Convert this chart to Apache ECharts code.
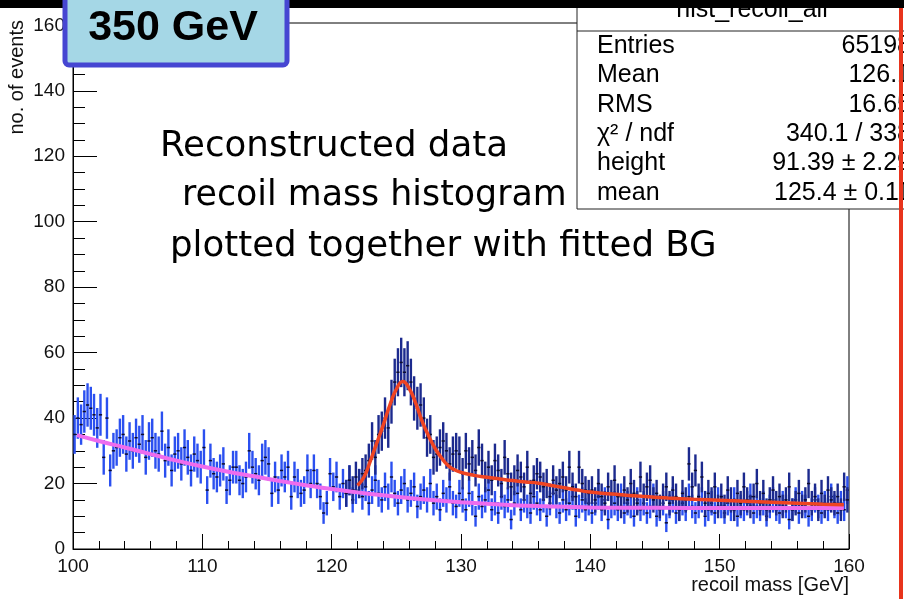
<!DOCTYPE html>
<html><head><meta charset="utf-8">
<script src="https://cdn.jsdelivr.net/npm/echarts@6/dist/echarts.min.js"></script>
<style>html,body{margin:0;padding:0;background:#fff}#c{width:904px;height:599px}</style>
</head><body><div id="c"></div>
<script>
// bin layout
const X_MIN = 100, X_MAX = 160, BIN = 0.25;
const xTicks = [100, 110, 120, 130, 140, 150, 160];
const yTicks = [0, 20, 40, 60, 80, 100, 120, 140, 160];

// blue histogram (background-like sample), 100-160 GeV, 0.25 GeV bins
const blueCounts = [
  35,40,38,42, 44,43,41,37, 41,28,40,24, 30,31,34,35, 29,33,30,34,
  32,35,28,33, 34,30,29,36, 27,31,24,29, 30,26,31,28, 24,29,27,25,
  31,18,27,23, 22,24,26,18, 21,25,25,21, 20,22,30,25, 23,21,27,28,
  26,17,22,18, 24,22,25,16, 22,20,17,18, 24,20,24,20, 16,11,14,23,
  19,22,16,20, 17,21,15,18, 20,16,19,14, 18,21,17,15, 19,16,22,17,
  14,18,20,15, 17,19,13,16, 18,15,20,14, 16,12,17,15, 19,14,13,17,
  15,12,17,14, 10,16,13,15, 18,12,14,11, 16,13,15,9, 14,17,12,15,
  13,11,16,14, 12,15,10,14, 17,13,11,15, 12,14,16,10, 13,15,12,14,
  11,14,16,12, 15,9,13,14, 12,16,11,14, 13,10,15,12, 14,11,13,16,
  10,12,14,8, 13,15,11,12, 14,12,16,13, 11,13,15,10, 12,14,11,15,
  13,11,14,12, 15,10,13,12, 14,16,11,13, 12,14,10,13, 15,12,11,14,
  13,9,12,15, 11,14,13,10, 12,15,13,11, 14,12,16,13, 11,14,12,18
];

// dark histogram (signal + background sample), starts at 121 GeV
const DARK_START = 121;
const darkCounts = [
  17,21,18,22, 20,23,24,27, 33,28,35,36, 40,37,45,51, 54,57,54,56,
  51,46,43,44, 40,34,35,28, 29,31,33,30, 26,29,30,29,
  23,30,26,28, 24,31,27,22, 25,21,27,24, 20,28,23,19, 21,24,22,19,
  25,17,21,23, 22,19,20,16, 21,18,20,22, 18,25,19,16, 25,20,18,17,
  18,15,20,16, 14,19,17,21, 16,13,18,15, 20,17,14,22, 16,19,21,15,
  17,13,16,19, 14,18,16,12, 17,15,26,19, 24,16,22,14, 17,15,19,13,
  16,13,18,15, 12,17,14,19, 15,13,16,20, 14,17,12,15, 18,14,16,13,
  15,19,12,14, 17,13,15,20, 14,16,12,17, 13,18,15,14, 16,12,19,15
];

// fitted background curve (magenta)
const bgFitX = [100.3,102,104,106,108,110,112,114,116,118,120,122,124,126,128,130,132,134,136,138,140,145,150,155,159.6];
const bgFitY = [34.8,33,31,29,27,25.2,23.6,22.2,20.8,19.5,18.3,17.3,16.4,15.6,14.9,14.3,13.8,13.4,13.1,12.9,12.7,12.6,12.5,12.5,12.5];

// full fit curve (red)
const fitX = [122.0,122.5,123.0,123.5,124.0,124.5,125.0,125.5,126.0,126.5,127.0,127.5,128.0,128.5,129.0,129.5,130,131,132,133,134,135,136,137,138,139,140,142,144,146,148,150,152,154,156,158,159.6];
const fitY = [19.4,22,27,32.5,38,44,48.8,51.2,49,44.5,39,34.5,30.7,27.8,25.5,24.2,23.4,22.5,21.9,21.4,20.9,20.5,20.1,19.4,18.7,18,17.4,16.7,16.1,15.6,15.2,14.9,14.6,14.3,14,13.7,13.5];

const statLabels = ['Entries', 'Mean', 'RMS', 'χ² / ndf', 'height', 'mean'];
const statValues = ['65198', '126.1', '16.65', '340.1 / 338', '91.39 ± 2.29', '125.4 ± 0.11'];

const blueData = blueCounts.map((v, i) => [X_MIN + (i + 0.5) * BIN, v]);
const darkData = darkCounts.map((v, i) => [DARK_START + (i + 0.5) * BIN, v]);

function errRender(color) {
  return function (params, api) {
    const x = api.value(0), y = api.value(1);
    const e = Math.sqrt(y);
    const t = api.coord([x, y + e]), b = api.coord([x, Math.max(0, y - e)]);
    const l = api.coord([x - BIN / 2, y]), r = api.coord([x + BIN / 2, y]);
    return { type: 'group', children: [
      { type: 'line', shape: { x1: t[0], y1: t[1], x2: b[0], y2: b[1] }, style: { stroke: color, lineWidth: 2.4 } },
      { type: 'line', shape: { x1: l[0], y1: l[1], x2: r[0], y2: r[1] }, style: { stroke: '#0c0c30', lineWidth: 1.5 } }
    ]};
  };
}

const FONT = 'Liberation Sans, Arial, sans-serif';
const chart = echarts.init(document.getElementById('c'), null, { renderer: 'canvas' });

const statGraphics = [];
statLabels.forEach((s, i) => {
  const y = 46 + i * 29.4;
  statGraphics.push({ type: 'text', z: 101, x: 597, y: y, style: { text: s, font: '25px ' + FONT, fill: '#000', textAlign: 'left', textVerticalAlign: 'middle' } });
  statGraphics.push({ type: 'text', z: 101, x: 911, y: y, style: { text: statValues[i], font: '25px ' + FONT, fill: '#000', textAlign: 'right', textVerticalAlign: 'middle' } });
});

chart.setOption({
  animation: false,
  backgroundColor: '#fff',
  grid: { left: 73, right: 55, top: 23, bottom: 50, show: true, borderColor: '#000', borderWidth: 1, backgroundColor: 'transparent' },
  xAxis: {
    type: 'value', min: X_MIN, max: X_MAX, interval: 10,
    axisLine: { show: true, lineStyle: { color: '#000', width: 1 } },
    axisTick: { show: true, inside: true, length: 15, lineStyle: { color: '#000' } },
    minorTick: { show: true, splitNumber: 5, length: 8, lineStyle: { color: '#000' } },
    splitLine: { show: false },
    axisLabel: { margin: 8, fontSize: 19, fontFamily: FONT, color: '#111',
      formatter: v => xTicks.includes(v) ? String(v) : '' }
  },
  yAxis: {
    type: 'value', min: 0, max: 160.7, interval: 20,
    axisLine: { show: true, lineStyle: { color: '#000', width: 1 } },
    axisTick: { show: true, inside: true, length: 24, lineStyle: { color: '#000' } },
    minorTick: { show: true, splitNumber: 4, length: 12, lineStyle: { color: '#000' } },
    splitLine: { show: false },
    axisLabel: { margin: 8, fontSize: 19, fontFamily: FONT, color: '#111',
      formatter: v => yTicks.includes(v) ? String(v) : '' }
  },
  series: [
    { type: 'custom', name: 'bg', renderItem: errRender('#2b50f0'), data: blueData, z: 2, encode: { x: 0, y: 1 } },
    { type: 'custom', name: 'sig', renderItem: errRender('#1c2a8e'), data: darkData, z: 3, encode: { x: 0, y: 1 } },
    { type: 'line', name: 'bgfit', data: bgFitX.map((x, i) => [x, bgFitY[i]]), smooth: true, showSymbol: false, z: 5,
      lineStyle: { color: '#ee6cee', width: 4 } },
    { type: 'line', name: 'fit', data: fitX.map((x, i) => [x, fitY[i]]), smooth: true, showSymbol: false, z: 6,
      lineStyle: { color: '#ef4422', width: 3.5 } }
  ],
  graphic: [
    // stats box
    { type: 'rect', z: 100, shape: { x: 577, y: -2, width: 340, height: 211 }, style: { fill: '#fff', stroke: '#222', lineWidth: 1 } },
    { type: 'line', z: 100, shape: { x1: 577, y1: 31, x2: 904, y2: 31 }, style: { stroke: '#222', lineWidth: 1 } },
    { type: 'text', z: 101, x: 752, y: 23, style: { text: 'hist_recoil_all', font: '25px ' + FONT, fill: '#000', textAlign: 'center', textVerticalAlign: 'bottom' } },
    ...statGraphics,
    // black bar on top
    { type: 'rect', z: 102, shape: { x: 0, y: 0, width: 904, height: 8 }, style: { fill: '#000' } },
    // red vertical line on the right
    { type: 'rect', z: 103, shape: { x: 899, y: 8, width: 4, height: 591 }, style: { fill: '#e8341c' } },
    // 350 GeV label box
    { type: 'rect', z: 104, shape: { x: 65, y: -6, width: 222, height: 71, r: 4 }, style: { fill: '#a5d7e6', stroke: '#4646d2', lineWidth: 5 } },
    { type: 'text', z: 105, x: 173, y: 28, style: { text: '350 GeV', font: 'bold 43px ' + FONT, fill: '#000', textAlign: 'center', textVerticalAlign: 'middle' } },
    // annotation text
    { type: 'text', z: 101, x: 160, y: 147, style: { text: 'Reconstructed data', font: '35.6px DejaVu Sans', fill: '#000', textAlign: 'left', textVerticalAlign: 'middle' } },
    { type: 'text', z: 101, x: 182, y: 196, style: { text: 'recoil mass histogram', font: '34.8px DejaVu Sans', fill: '#000', textAlign: 'left', textVerticalAlign: 'middle' } },
    { type: 'text', z: 101, x: 170, y: 247, style: { text: 'plotted together with fitted BG', font: '35.6px DejaVu Sans', fill: '#000', textAlign: 'left', textVerticalAlign: 'middle' } },
    // axis titles
    { type: 'text', z: 101, x: 17, y: 20, rotation: Math.PI / 2, style: { text: 'no. of events', font: '20px ' + FONT, fill: '#111', textAlign: 'right', textVerticalAlign: 'middle' } },
    { type: 'text', z: 101, x: 849, y: 585, style: { text: 'recoil mass [GeV]', font: '20px ' + FONT, fill: '#111', textAlign: 'right', textVerticalAlign: 'middle' } }
  ]
});
</script>
</body></html>
